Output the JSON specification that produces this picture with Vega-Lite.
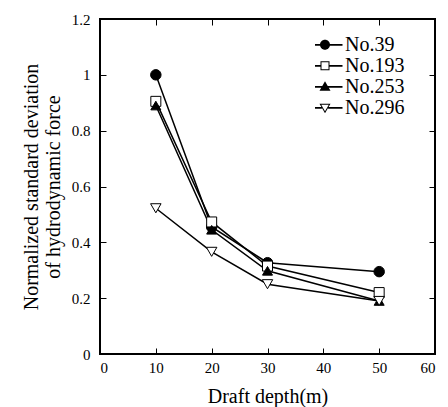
{
  "$schema": "https://vega.github.io/schema/vega-lite/v6.json",
  "width": 335,
  "height": 335,
  "autosize": "none",
  "padding": {"left": 100, "top": 19, "right": 13, "bottom": 53},
  "background": "white",
  "config": {
    "font": "Liberation Serif",
    "view": {"stroke": "black", "strokeWidth": 2},
    "axis": {
      "grid": false,
      "domain": false,
      "tickColor": "black",
      "tickWidth": 1,
      "labelColor": "black",
      "labelFontSize": 15,
      "titleFontSize": 20,
      "titleFontWeight": "normal",
      "titleColor": "black"
    }
  },
  "data": {
    "values": [
      {"series": "No.39", "depth": 10, "value": 1.0},
      {"series": "No.39", "depth": 20, "value": 0.455},
      {"series": "No.39", "depth": 30, "value": 0.327},
      {"series": "No.39", "depth": 50, "value": 0.295},
      {"series": "No.193", "depth": 10, "value": 0.905},
      {"series": "No.193", "depth": 20, "value": 0.473},
      {"series": "No.193", "depth": 30, "value": 0.315},
      {"series": "No.193", "depth": 50, "value": 0.22},
      {"series": "No.253", "depth": 10, "value": 0.89},
      {"series": "No.253", "depth": 20, "value": 0.445},
      {"series": "No.253", "depth": 30, "value": 0.298},
      {"series": "No.253", "depth": 50, "value": 0.19},
      {"series": "No.296", "depth": 10, "value": 0.522},
      {"series": "No.296", "depth": 20, "value": 0.366},
      {"series": "No.296", "depth": 30, "value": 0.25},
      {"series": "No.296", "depth": 50, "value": 0.19}
    ]
  },
  "layer": [
    {
      "mark": {"type": "line", "color": "black", "strokeWidth": 1.5},
      "encoding": {
        "x": {"field": "depth", "type": "quantitative", "scale": {"domain": [0, 60], "nice": false},
              "axis": {"orient": "bottom", "values": [0,10,20,30,40,50,60], "tickSize": -6, "labelPadding": 12, "labelFont": "Liberation Serif", "title": "Draft depth(m)", "titleFont": "Liberation Serif", "titlePadding": 11}},
        "y": {"field": "value", "type": "quantitative", "scale": {"domain": [0, 1.2], "nice": false},
              "axis": {"orient": "left", "values": [0,0.2,0.4,0.6,0.8,1,1.2], "format": "~g", "tickSize": -6, "labelPadding": 16, "labelFont": "Liberation Serif", "title": ["Normalized standard deviation", "of hydrodynamic force"], "titleFont": "Liberation Serif", "titleLineHeight": 22, "titlePadding": 8}},
        "detail": {"field": "series"}
      }
    },
    {
      "transform": [{"filter": "datum.series === 'No.39'"}],
      "mark": {"type": "point", "shape": "circle", "filled": true, "fill": "black", "stroke": "black", "strokeWidth": 1, "size": 110, "opacity": 1},
      "encoding": {
        "x": {"field": "depth", "type": "quantitative",
              "axis": {"orient": "top", "values": [0,10,20,30,40,50,60], "tickSize": -6, "labels": false, "title": null}},
        "y": {"field": "value", "type": "quantitative",
              "axis": {"orient": "right", "values": [0,0.2,0.4,0.6,0.8,1,1.2], "tickSize": -6, "labels": false, "title": null}}
      }
    },
    {
      "transform": [{"filter": "datum.series === 'No.193'"}],
      "mark": {"type": "point", "shape": "square", "filled": true, "fill": "white", "stroke": "black", "strokeWidth": 1, "size": 100, "opacity": 1},
      "encoding": {
        "x": {"field": "depth", "type": "quantitative", "axis": null},
        "y": {"field": "value", "type": "quantitative", "axis": null}
      }
    },
    {
      "transform": [{"filter": "datum.series === 'No.253'"}],
      "mark": {"type": "point", "shape": "triangle-up", "filled": true, "fill": "black", "stroke": "black", "strokeWidth": 1, "size": 100, "opacity": 1},
      "encoding": {
        "x": {"field": "depth", "type": "quantitative", "axis": null},
        "y": {"field": "value", "type": "quantitative", "axis": null}
      }
    },
    {
      "transform": [{"filter": "datum.series === 'No.296'"}],
      "mark": {"type": "point", "shape": "triangle-down", "filled": true, "fill": "white", "stroke": "black", "strokeWidth": 1, "size": 110, "opacity": 1},
      "encoding": {
        "x": {"field": "depth", "type": "quantitative", "axis": null},
        "y": {"field": "value", "type": "quantitative", "axis": null}
      }
    },
    {
      "mark": {"type": "point", "filled": true, "color": "black", "opacity": 0},
      "encoding": {
        "x": {"field": "depth", "type": "quantitative", "axis": null},
        "y": {"field": "value", "type": "quantitative", "axis": null},
        "shape": {"field": "series", "type": "nominal",
                  "scale": {"domain": ["No.39", "No.193", "No.253", "No.296"],
                            "range": [
                              "M-3.5,-0.18H3.5V0.18H-3.5Z M-1,0A1,1,0,1,1,1,0A1,1,0,1,1,-1,0Z",
                              "M-3.5,-0.18H-0.9V0.18H-3.5Z M0.9,-0.18H3.5V0.18H0.9Z M-0.9,-0.9H0.9V0.9H-0.9Z M-0.7,-0.7V0.7H0.7V-0.7Z",
                              "M-3.5,-0.18H3.5V0.18H-3.5Z M0,-1.1L1.1,0.8H-1.1Z",
                              "M-3.5,-0.18H-0.62V0.18H-3.5Z M0.62,-0.18H3.5V0.18H0.62Z M-1.1,-0.8H1.1L0,1.1Z M-0.75,-0.6L0,0.7L0.75,-0.6Z"
                            ]},
                  "legend": {
                    "title": null,
                    "orient": "none",
                    "legendX": 215,
                    "legendY": 17,
                    "padding": 0,
                    "labelFont": "Liberation Serif",
                    "labelFontSize": 20,
                    "labelColor": "black",
                    "labelOffset": 10,
                    "rowPadding": 0,
                    "clipHeight": 17.7,
                    "symbolSize": 100,
                    "symbolOpacity": 1,
                    "symbolFillColor": "black",
                    "symbolStrokeWidth": 0
                  }}
      }
    }
  ],
  "resolve": {"axis": {"x": "independent", "y": "independent"}}
}
